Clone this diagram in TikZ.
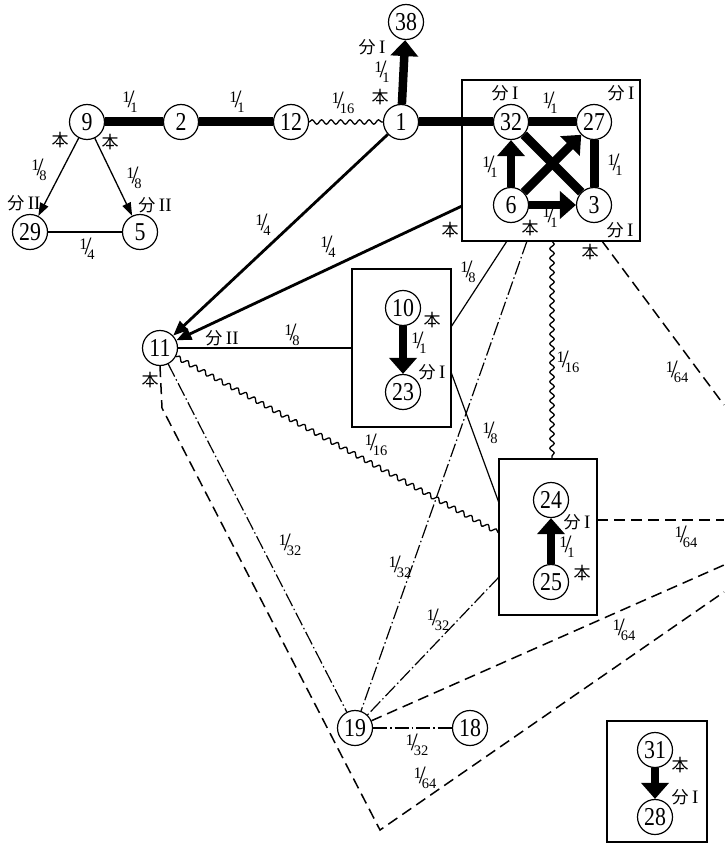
\documentclass[tikz,border=0pt]{standalone}
\usepackage{graphicx}
\usepackage{fontspec}
\setmainfont{Liberation Serif}
\newfontfamily\jpfont{Noto Sans CJK JP}
\usetikzlibrary{arrows.meta,decorations.pathmorphing,backgrounds}

% slanted fraction as used for the ratio labels
\newcommand\fr[2]{{\fontsize{16}{16}\selectfont\raisebox{5.5pt}{#1}\kern-2.8pt{\fontsize{25}{25}\selectfont/}\kern-4pt\raisebox{-4.5pt}{\fontsize{14.5}{14.5}\selectfont#2}}}
\newcommand\hon{{\jpfont 本}}
\newcommand\bun[1]{{\jpfont 分}\kern3.5pt{\fontsize{19}{19}\selectfont#1}}
% tall unit numbers
\newcommand\nm[1]{\scalebox{0.95}[1.12]{#1}}

\begin{document}
\begin{tikzpicture}[x=1pt,y=-1pt,
  num/.style={circle,draw,line width=1.2pt,minimum size=35pt,inner sep=0pt,
    fill=white,font=\fontsize{23}{23}\selectfont},
  grp/.style={draw,line width=1.2pt,inner sep=0pt},
  lab/.style={inner sep=0pt,font=\fontsize{17}{17}\selectfont},
  frl/.style={inner sep=0pt},
  heavy/.style={line width=9pt},
  heavyarrow/.style={line width=8.5pt,-{Triangle[width=27pt,length=16pt]}},
  quarter/.style={line width=2.6pt},
  quarterarrow/.style={line width=2.8pt,-{Triangle[width=12pt,length=15pt]}},
  thinarrow/.style={line width=1.3pt,-{Triangle[width=9pt,length=13pt]}},
  thin/.style={line width=1.2pt},
  wavy/.style={line width=1.3pt,decorate,decoration={snake,amplitude=2.2pt,segment length=9.5pt}},
  dashdot/.style={line width=1.2pt,dash pattern=on 14pt off 3pt on 1.5pt off 3pt},
  longdash/.style={line width=1.5pt,dash pattern=on 11pt off 6pt}]
\useasboundingbox (0,0) rectangle (724,845);

% numbered units
\node[num] (n38) at (406,22) {\nm{38}};
\node[num] (n1)  at (401,122) {\nm{1}};
\node[num] (n12) at (291,122) {\nm{12}};
\node[num] (n2)  at (181,122) {\nm{2}};
\node[num] (n9)  at (87,122) {\nm{9}};
\node[num] (n29) at (30,232) {\nm{29}};
\node[num] (n5)  at (140,232) {\nm{5}};
\node[num] (n32) at (511,122) {\nm{32}};
\node[num] (n27) at (594,122) {\nm{27}};
\node[num] (n6)  at (511,205) {\nm{6}};
\node[num] (n3)  at (594,205) {\nm{3}};
\node[num] (n11) at (160,348) {\nm{11}};
\node[num] (n10) at (403,308) {\nm{10}};
\node[num] (n23) at (403,392) {\nm{23}};
\node[num] (n24) at (551,500) {\nm{24}};
\node[num] (n25) at (551,582) {\nm{25}};
\node[num] (n19) at (355,728) {\nm{19}};
\node[num] (n18) at (470,728) {\nm{18}};
\node[num] (n31) at (655,750) {\nm{31}};
\node[num] (n28) at (655,817) {\nm{28}};

% group frames
\node[grp,minimum width=178pt,minimum height=161pt] (B1) at (551,160.5) {};
\node[grp,minimum width=99pt,minimum height=158pt] (B2) at (401.5,348) {};
\node[grp,minimum width=98pt,minimum height=156pt] (B3) at (548,537) {};
\node[grp,minimum width=100pt,minimum height=121pt] (B4) at (657,781.5) {};

% attachment points on the frames and free ends at the border
\coordinate (b1w)  at (462,206);
\coordinate (b1s1) at (507,241);
\coordinate (b1s2) at (527,241);
\coordinate (b1s3) at (552,241);
\coordinate (b1s4) at (602,241);
\coordinate (b2e1) at (451,327);
\coordinate (b2e2) at (451,372);
\coordinate (b3w1) at (499,503);
\coordinate (b3w2) at (499,533);
\coordinate (b3w3) at (499,577);
\coordinate (b3n)  at (552,459);
\coordinate (b3e)  at (597,520);
\coordinate (r1) at (724,405);
\coordinate (r2) at (724,520);
\coordinate (r3) at (724,565);
\coordinate (r4) at (724,592);
\coordinate (k1) at (162,408);
\coordinate (k2) at (380,830);

\begin{pgfonlayer}{background}
% full-share links
\draw[heavy] (n9) -- (n2);
\draw[heavy] (n2) -- (n12);
\draw[heavy] (n1) -- (n32);
\draw[heavy] (n32) -- (n27);
\draw[heavy] (n27) -- (n3);
\draw[heavy] (n32) -- (n3);
\draw[heavyarrow] (n1) -- (n38);
\draw[heavyarrow] (n6) -- (n32);
\draw[heavyarrow] (n6) -- (n27);
\draw[heavyarrow] (n6) -- (n3);
\draw[heavyarrow] (n10) -- (n23);
\draw[heavyarrow] (n25) -- (n24);
\draw[heavyarrow] (n31) -- (n28);
% quarter and eighth links
\draw[quarter] (n29) -- (n5);
\draw[quarterarrow] (n1) -- (n11);
\draw[quarterarrow] (b1w) -- (n11);
\draw[thinarrow] (n9) -- (n29);
\draw[thinarrow] (n9) -- (n5);
\draw[thin] (n11) -- (B2.west |- n11);
\draw[thin] (b1s1) -- (b2e1);
\draw[thin] (b2e2) -- (b3w1);
% sixteenth links
\draw[wavy] (n12) -- (n1);
\draw[wavy] (n11) -- (b3w2);
\draw[wavy] (b1s3) -- (b3n);
% thirty-second links
\draw[dashdot] (n11) -- (n19);
\draw[dashdot] (b1s2) -- (n19);
\draw[dashdot] (b3w3) -- (n19);
\draw[dashdot] (n19) -- (n18);
% sixty-fourth links
\draw[longdash] (b1s4) -- (r1);
\draw[longdash] (b3e) -- (r2);
\draw[longdash] (n19) -- (r3);
\draw[longdash] (n11.south) -- (k1) -- (k2) -- (r4);
\end{pgfonlayer}

% ratio labels
\node[frl] (f1)  at (130,102) {\fr{1}{1}};
\node[frl] (f2)  at (237,102) {\fr{1}{1}};
\node[frl] (f3)  at (343,103) {\fr{1}{16}};
\node[frl] (f4)  at (382,72)  {\fr{1}{1}};
\node[frl] (f5)  at (550,103) {\fr{1}{1}};
\node[frl] (f6)  at (490,167) {\fr{1}{1}};
\node[frl] (f7)  at (615,165) {\fr{1}{1}};
\node[frl] (f8)  at (550,217) {\fr{1}{1}};
\node[frl] (f9)  at (39,170)  {\fr{1}{8}};
\node[frl] (f10) at (134,178) {\fr{1}{8}};
\node[frl] (f11) at (87,249)  {\fr{1}{4}};
\node[frl] (f12) at (263,225) {\fr{1}{4}};
\node[frl] (f13) at (328,247) {\fr{1}{4}};
\node[frl] (f14) at (292,335) {\fr{1}{8}};
\node[frl] (f15) at (419,343) {\fr{1}{1}};
\node[frl] (f16) at (468,272) {\fr{1}{8}};
\node[frl] (f17) at (490,433) {\fr{1}{8}};
\node[frl] (f18) at (376,445) {\fr{1}{16}};
\node[frl] (f19) at (290,545) {\fr{1}{32}};
\node[frl] (f20) at (400,567) {\fr{1}{32}};
\node[frl] (f21) at (438,620) {\fr{1}{32}};
\node[frl] (f22) at (568,362) {\fr{1}{16}};
\node[frl] (f23) at (677,372) {\fr{1}{64}};
\node[frl] (f24) at (686,537) {\fr{1}{64}};
\node[frl] (f25) at (567,547) {\fr{1}{1}};
\node[frl] (f26) at (624,630) {\fr{1}{64}};
\node[frl] (f27) at (417,745) {\fr{1}{32}};
\node[frl] (f28) at (425,778) {\fr{1}{64}};

% role labels
\node[lab] (t1)  at (60,140)  {\hon};
\node[lab] (t2)  at (110,142) {\hon};
\node[lab] (t3)  at (24,203)  {\bun{II}};
\node[lab] (t4)  at (155,205) {\bun{II}};
\node[lab] (t5)  at (380,97)  {\hon};
\node[lab] (t6)  at (372,47)  {\bun{I}};
\node[lab] (t7)  at (505,93)  {\bun{I}};
\node[lab] (t8)  at (621,93)  {\bun{I}};
\node[lab] (t9)  at (530,228) {\hon};
\node[lab] (t10) at (620,230) {\bun{I}};
\node[lab] (t11) at (450,230) {\hon};
\node[lab] (t12) at (590,252) {\hon};
\node[lab] (t13) at (222,338) {\bun{II}};
\node[lab] (t14) at (150,380) {\hon};
\node[lab] (t15) at (432,320) {\hon};
\node[lab] (t16) at (432,372) {\bun{I}};
\node[lab] (t17) at (577,522) {\bun{I}};
\node[lab] (t18) at (582,573) {\hon};
\node[lab] (t19) at (680,765) {\hon};
\node[lab] (t20) at (685,797) {\bun{I}};
\end{tikzpicture}
\end{document}
